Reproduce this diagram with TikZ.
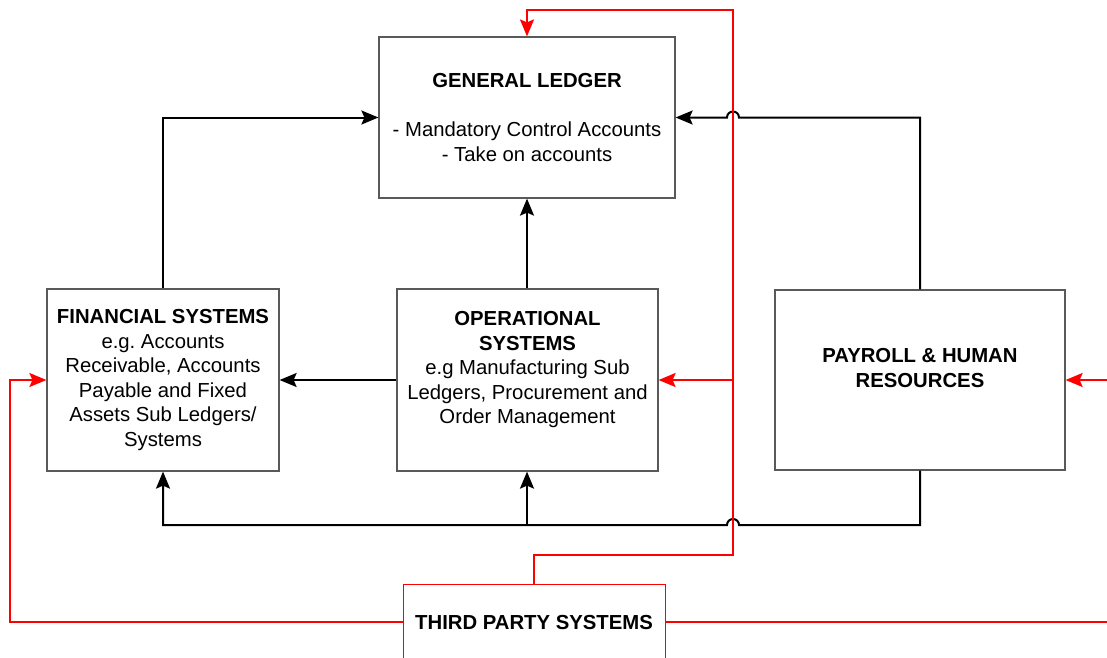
\documentclass[tikz,border=0pt]{standalone}
\usepackage{fontspec}
\setmainfont{Liberation Sans}
\usetikzlibrary{arrows.meta}

\tikzset{
  box/.style={draw=black!65, line width=1.2pt, fill=white, align=center, inner sep=0pt,
    font=\fontsize{20.3}{24.6}\selectfont},
  link/.style={draw=black, line width=2pt, -{Stealth[length=17pt,width=14pt,inset=3pt]}},
  feed/.style={draw=red, line width=2pt, -{Stealth[length=17pt,width=14pt,inset=3pt]}},
}

\begin{document}
\begin{tikzpicture}[x=1pt, y=-1pt]
    \useasboundingbox (0,0) rectangle (1107,657);

    % the five systems
    \node[box, minimum width=296pt, minimum height=161pt] (gl) at (527,117.5)
        {\textbf{GENERAL LEDGER}\\[24.6pt] - Mandatory Control Accounts\\ - Take on accounts};
    \node[box, minimum width=232pt, minimum height=182pt] (fin) at (163,380)
        {\textbf{FINANCIAL SYSTEMS}\\ e.g.\ Accounts\\ Receivable, Accounts\\ Payable and Fixed\\ Assets Sub Ledgers/\\ Systems};
    \node[box, minimum width=261pt, minimum height=182pt] (ops) at (527.5,380)
        {\textbf{OPERATIONAL}\\ \textbf{SYSTEMS}\\ e.g Manufacturing Sub\\ Ledgers, Procurement and\\ Order Management\\ \mbox{}};
    \node[box, minimum width=290pt, minimum height=180pt] (pay) at (920,380)
        {\textbf{PAYROLL \& HUMAN}\\ \textbf{RESOURCES}\\ \mbox{}};
    \node[box, draw=red, line width=1pt, minimum width=262pt, minimum height=76pt] (third) at (534,622)
        {\textbf{THIRD PARTY SYSTEMS}};

    % crossing points of the red feed
    \coordinate (hopA) at (733,117.5);
    \coordinate (hopB) at (733,525);

    % black links into the ledger
    \draw[link] (fin.north) |- (gl.west);
    \draw[link] (gl.south |- ops.north) -- (gl.south);
    \draw[link] (pay.north) |- ([xshift=6pt]hopA) arc[start angle=0, end angle=180, radius=6pt] -- (gl.east);
    \draw[link] (ops.west) -- (fin.east);

    % payroll back to the sub systems
    \draw[link] (pay.south) |- ([xshift=6pt]hopB) arc[start angle=0, end angle=180, radius=6pt] -- (gl.south |- hopB) -| (fin.south);
    \draw[link] (gl.south |- hopB) -- (gl.south |- ops.south);

    % red feeds from third party systems
    \draw[feed] (third.north) |- (733,555) -- (733,10) -| (gl.north);
    \draw[feed] (733,380) -- (ops.east);
    \draw[feed] (third.west) -| (10,380) -- (fin.west);
    \draw[feed] (third.east) -- (1115,622) -- (1115,380) -- (pay.east);
\end{tikzpicture}
\end{document}
